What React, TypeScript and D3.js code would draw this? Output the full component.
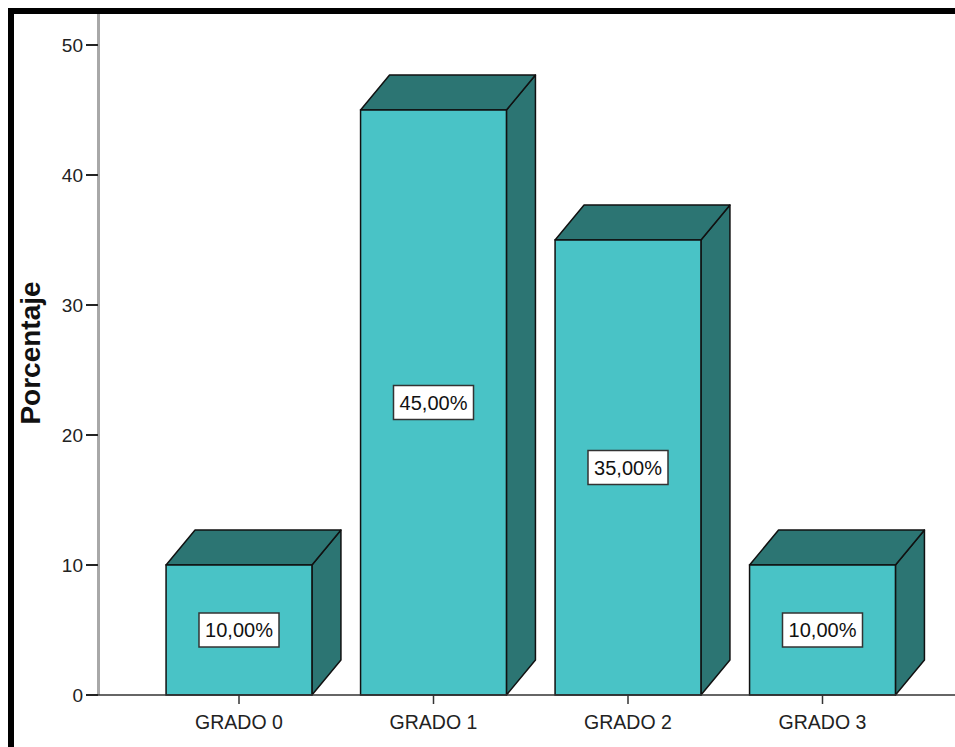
import React from "react";
import * as d3 from "d3";

const categories = ["GRADO 0", "GRADO 1", "GRADO 2", "GRADO 3"];
const values = [10, 45, 35, 10];
const valueLabels = ["10,00%", "45,00%", "35,00%", "10,00%"];
const yTicks = [0, 10, 20, 30, 40, 50];

const W = 955;
const H = 747;
const DX = 29;
const DY = 35;
const FRONT = "#49C3C6";
const DARK = "#2C7573";
const FONT = "'Liberation Sans', Arial, sans-serif";

export default function App() {
  const y = d3.scaleLinear().domain([0, 50]).range([695, 45]);
  const x = d3
    .scaleBand<string>()
    .domain(categories)
    .range([141.75, 919.75])
    .paddingInner(0.25)
    .paddingOuter(0.125);
  const w = x.bandwidth();
  const y0 = y(0);

  return (
    <svg
      width={W}
      height={H}
      style={{ position: "absolute", left: 0, top: 0, background: "#fff" }}
      fontFamily={FONT}
    >
      <rect x={0} y={0} width={W} height={H} fill="#fff" />
      {/* outer frame */}
      <rect x={11} y={11} width={W + 20} height={H + 20} fill="none" stroke="#000" strokeWidth={6} />
      {/* y axis */}
      <line x1={98.5} x2={98.5} y1={14} y2={y0} stroke="#a8a8a8" strokeWidth={3} />
      {yTicks.map((t) => (
        <g key={t}>
          <line x1={86} x2={98} y1={y(t)} y2={y(t)} stroke="#222" strokeWidth={2} />
          <text x={83} y={y(t)} dy="0.36em" textAnchor="end" fontSize={19} fill="#222">
            {t}
          </text>
        </g>
      ))}
      <text
        transform={`translate(40, 353) rotate(-90)`}
        textAnchor="middle"
        fontSize={28}
        fontWeight="bold"
        fill="#111"
      >
        Porcentaje
      </text>
      {/* bars */}
      {categories.map((c, i) => {
        const bx = x(c)!;
        const yv = y(values[i]);
        const top = [
          [bx, yv],
          [bx + DX, yv - DY],
          [bx + w + DX, yv - DY],
          [bx + w, yv],
        ];
        const side = [
          [bx + w, yv],
          [bx + w + DX, yv - DY],
          [bx + w + DX, y0 - DY],
          [bx + w, y0],
        ];
        const cx = bx + w / 2;
        const cy = y(values[i] / 2);
        return (
          <g key={c}>
            <polygon points={side.map((p) => p.join(",")).join(" ")} fill={DARK} stroke="#111" strokeWidth={1.5} strokeLinejoin="round" />
            <polygon points={top.map((p) => p.join(",")).join(" ")} fill={DARK} stroke="#111" strokeWidth={1.5} strokeLinejoin="round" />
            <rect x={bx} y={yv} width={w} height={y0 - yv} fill={FRONT} stroke="#111" strokeWidth={1.5} />
            <rect x={cx - 40} y={cy - 17} width={80} height={34} fill="#fff" stroke="#333" strokeWidth={1.5} />
            <text x={cx} y={cy} dy="0.36em" textAnchor="middle" fontSize={20} fill="#111">
              {valueLabels[i]}
            </text>
          </g>
        );
      })}
      {/* x axis */}
      <line x1={98} x2={W} y1={y0} y2={y0} stroke="#333" strokeWidth={1.5} />
      {categories.map((c) => {
        const cx = x(c)! + w / 2;
        return (
          <g key={c}>
            <line x1={cx} x2={cx} y1={y0} y2={y0 + 9} stroke="#333" strokeWidth={1.5} />
            <text x={cx} y={729} textAnchor="middle" fontSize={19.5} fill="#222">
              {c}
            </text>
          </g>
        );
      })}
    </svg>
  );
}
